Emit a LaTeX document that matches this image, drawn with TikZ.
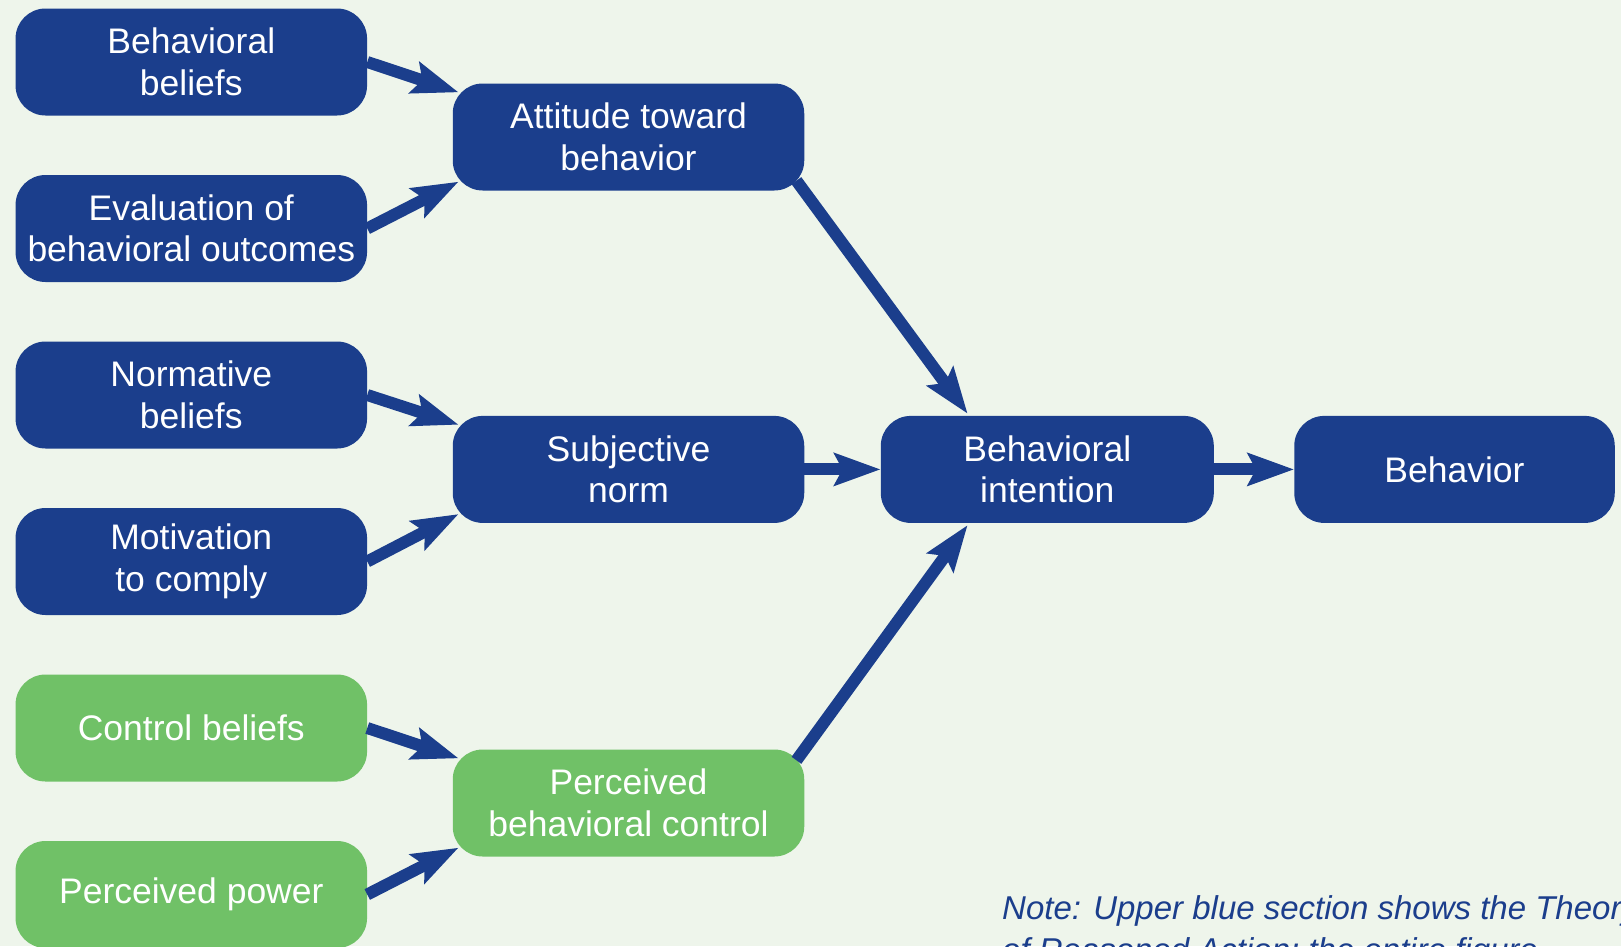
\documentclass[tikz,border=0pt]{standalone}
\usepackage{fontspec}
\setmainfont{Liberation Sans}
\usetikzlibrary{arrows.meta,calc}
\definecolor{tpbblue}{HTML}{1B3E8C}
\definecolor{tpbgreen}{HTML}{70C167}
\definecolor{tpbbg}{HTML}{EEF5EB}
\tikzset{
  box/.style={rounded corners=30pt, minimum height=107pt, inner sep=0pt,
    text=white, align=center, font=\fontsize{35.5}{41.5}\selectfont},
  bluebox/.style={box, fill=tpbblue},
  greenbox/.style={box, fill=tpbgreen},
  arr/.style={draw=tpbblue, line width=12pt,
    -{Stealth[length=46pt, width=32pt, inset=8pt]}},
  notetext/.style={anchor=base west, inner sep=0pt, text=tpbblue,
    font=\itshape\fontsize{33}{42}\selectfont}
}
\begin{document}
\begin{tikzpicture}[x=1pt, y=-1pt]
\useasboundingbox (0,0) rectangle (1621,946);
\clip (0,0) rectangle (1621,946);
\fill[tpbbg] (0,0) rectangle (1621,946);

% left column
\node[bluebox, minimum width=351.5pt] (bb) at (191.3,62) {Behavioral\\beliefs};
\node[bluebox, minimum width=351.5pt] (eo) at (191.3,228.5) {Evaluation of\\behavioral outcomes};
\node[bluebox, minimum width=351.5pt] (nb) at (191.3,395) {Normative\\beliefs};
\node[bluebox, minimum width=351.5pt] (mc) at (191.3,561.5) {Motivation\\to comply};
\node[greenbox, minimum width=351.5pt] (cb) at (191.3,728) {Control beliefs};
\node[greenbox, minimum width=351.5pt] (pp) at (191.3,894.5) {Perceived power};

% middle column
\node[bluebox, minimum width=351.5pt] (atb) at (628.5,137) {Attitude toward\\behavior};
\node[bluebox, minimum width=351.5pt] (sn) at (628.5,469.4) {Subjective\\norm};
\node[greenbox, minimum width=351.5pt] (pbc) at (628.5,803) {Perceived\\behavioral control};

% right
\node[bluebox, minimum width=333pt] (bi) at (1047.3,469.4) {Behavioral\\intention};
\node[bluebox, minimum width=320.5pt] (beh) at (1454.5,469.4) {Behavior};

% arrows
\draw[arr] (bb.east) -- ($(atb.north west)+(6,9)$);
\draw[arr] (eo.east) -- ($(atb.south west)+(6,-9)$);
\draw[arr] (nb.east) -- ($(sn.north west)+(6,9)$);
\draw[arr] (mc.east) -- ($(sn.south west)+(6,-9)$);
\draw[arr] (cb.east) -- ($(pbc.north west)+(6,9)$);
\draw[arr] (pp.east) -- ($(pbc.south west)+(6,-9)$);
\draw[arr] ($(atb.south east)+(-8,-10)$) -- ($(bi.north west)+(87,-2)$);
\draw[arr] ($(pbc.north east)+(-8,11)$) -- ($(bi.south west)+(87,2)$);
\draw[arr] (sn.east) -- (bi.west);
\draw[arr] (bi.east) -- (beh.west);

% note (cut off at the picture's edges, as in the reference)
\node[notetext] (note1) at (1002,919) {Note: Upper blue section shows the Theory};
\node[notetext] (note2) at (1002,961) {of Reasoned Action; the entire figure};
\end{tikzpicture}
\end{document}
